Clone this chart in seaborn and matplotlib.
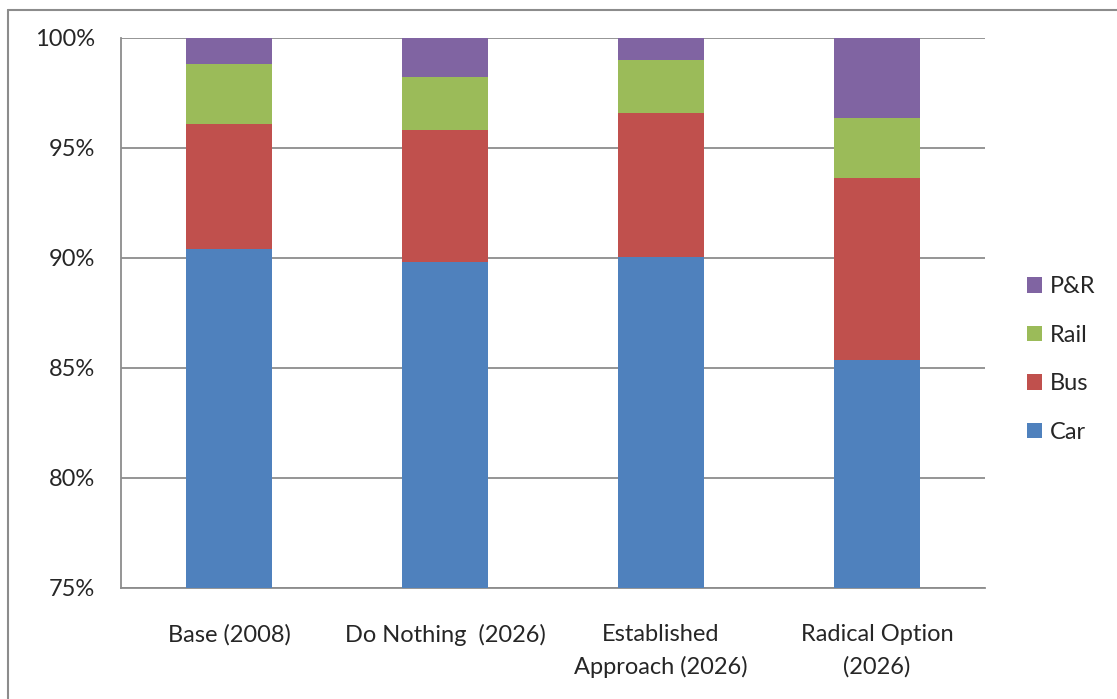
import matplotlib
matplotlib.use("Agg")
import matplotlib.pyplot as plt
from matplotlib.patches import Patch
from matplotlib.lines import Line2D
import seaborn as sns
import pandas as pd
import numpy as np

scenarios = ["Base (2008)", "Do Nothing  (2026)", "Established\nApproach (2026)", "Radical Option\n(2026)"]
car = [90.40, 89.84, 90.03, 85.36]
bus = [5.67, 5.96, 6.58, 8.26]
rail = [2.74, 2.45, 2.37, 2.73]
pr = [1.19, 1.75, 1.02, 3.65]
modes = ["Car", "Bus", "Rail", "P&R"]
colors = {"Car": "#4F81BD", "Bus": "#C0504D", "Rail": "#9BBB59", "P&R": "#8064A2"}
yticks = [75, 80, 85, 90, 95, 100]

sns.set_style("white")
plt.rcParams["font.family"] = ["Lato", "DejaVu Sans"]
FS = 17

c1 = np.array(car)
c2 = c1 + np.array(bus)
c3 = c2 + np.array(rail)
c4 = c3 + np.array(pr)
cums = {"Car": c1, "Bus": c2, "Rail": c3, "P&R": c4}

fig = plt.figure(figsize=(11.17, 6.99), dpi=100)
ax = fig.add_axes([121/1117, 1-588/699, (985-121)/1117, (588-38)/699])

for m in ["P&R", "Rail", "Bus", "Car"]:
    df = pd.DataFrame({"scenario": scenarios, "value": cums[m]})
    sns.barplot(data=df, x="scenario", y="value", order=scenarios, color=colors[m],
                width=0.4, saturation=1, ax=ax, zorder=3, linewidth=0)

ax.set_ylim(75, 100)
ax.set_xlim(-0.5, 3.5)
ax.set_yticks(yticks)
ax.set_yticklabels([f"{v}%" for v in yticks], fontsize=FS)
ax.set_xlabel("")
ax.set_ylabel("")
grid_c = "#8C8C8C"
ax.grid(axis="y", color=grid_c, linewidth=1.3, zorder=0)
ax.set_axisbelow(True)
for s in ["top", "right"]:
    ax.spines[s].set_visible(False)
for s in ["left", "bottom"]:
    ax.spines[s].set_color(grid_c)
    ax.spines[s].set_linewidth(1.3)

ax.set_xticks([0, 1, 2, 3])
ax.set_xticklabels(scenarios, fontsize=FS, linespacing=1.6)
ax.tick_params(axis="x", length=0, pad=26)
ax.set_xticks([-0.5, 0.5, 1.5, 2.5, 3.5], minor=True)
ax.tick_params(axis="x", which="minor", length=6, color=grid_c, width=1.3, direction="out")
ax.tick_params(axis="y", length=5.5, color=grid_c, width=1.3, direction="out", pad=13)

handles = [Patch(facecolor=colors[m], edgecolor="none") for m in ["P&R", "Rail", "Bus", "Car"]]
fig.legend(handles, ["P&R", "Rail", "Bus", "Car"], loc="center left",
           bbox_to_anchor=(1027/1117, 1-359.5/699), frameon=False, fontsize=FS,
           handlelength=0.64, handleheight=0.64, handletextpad=0.34,
           labelspacing=1.17, borderpad=0, borderaxespad=0)

fig.add_artist(Line2D([8/1117, 1.0], [1-10/699, 1-10/699], transform=fig.transFigure,
                      color=grid_c, linewidth=1.5))
fig.add_artist(Line2D([8/1117, 8/1117], [0, 1-10/699], transform=fig.transFigure,
                      color=grid_c, linewidth=1.5))

fig.savefig("out.png", dpi=100)
